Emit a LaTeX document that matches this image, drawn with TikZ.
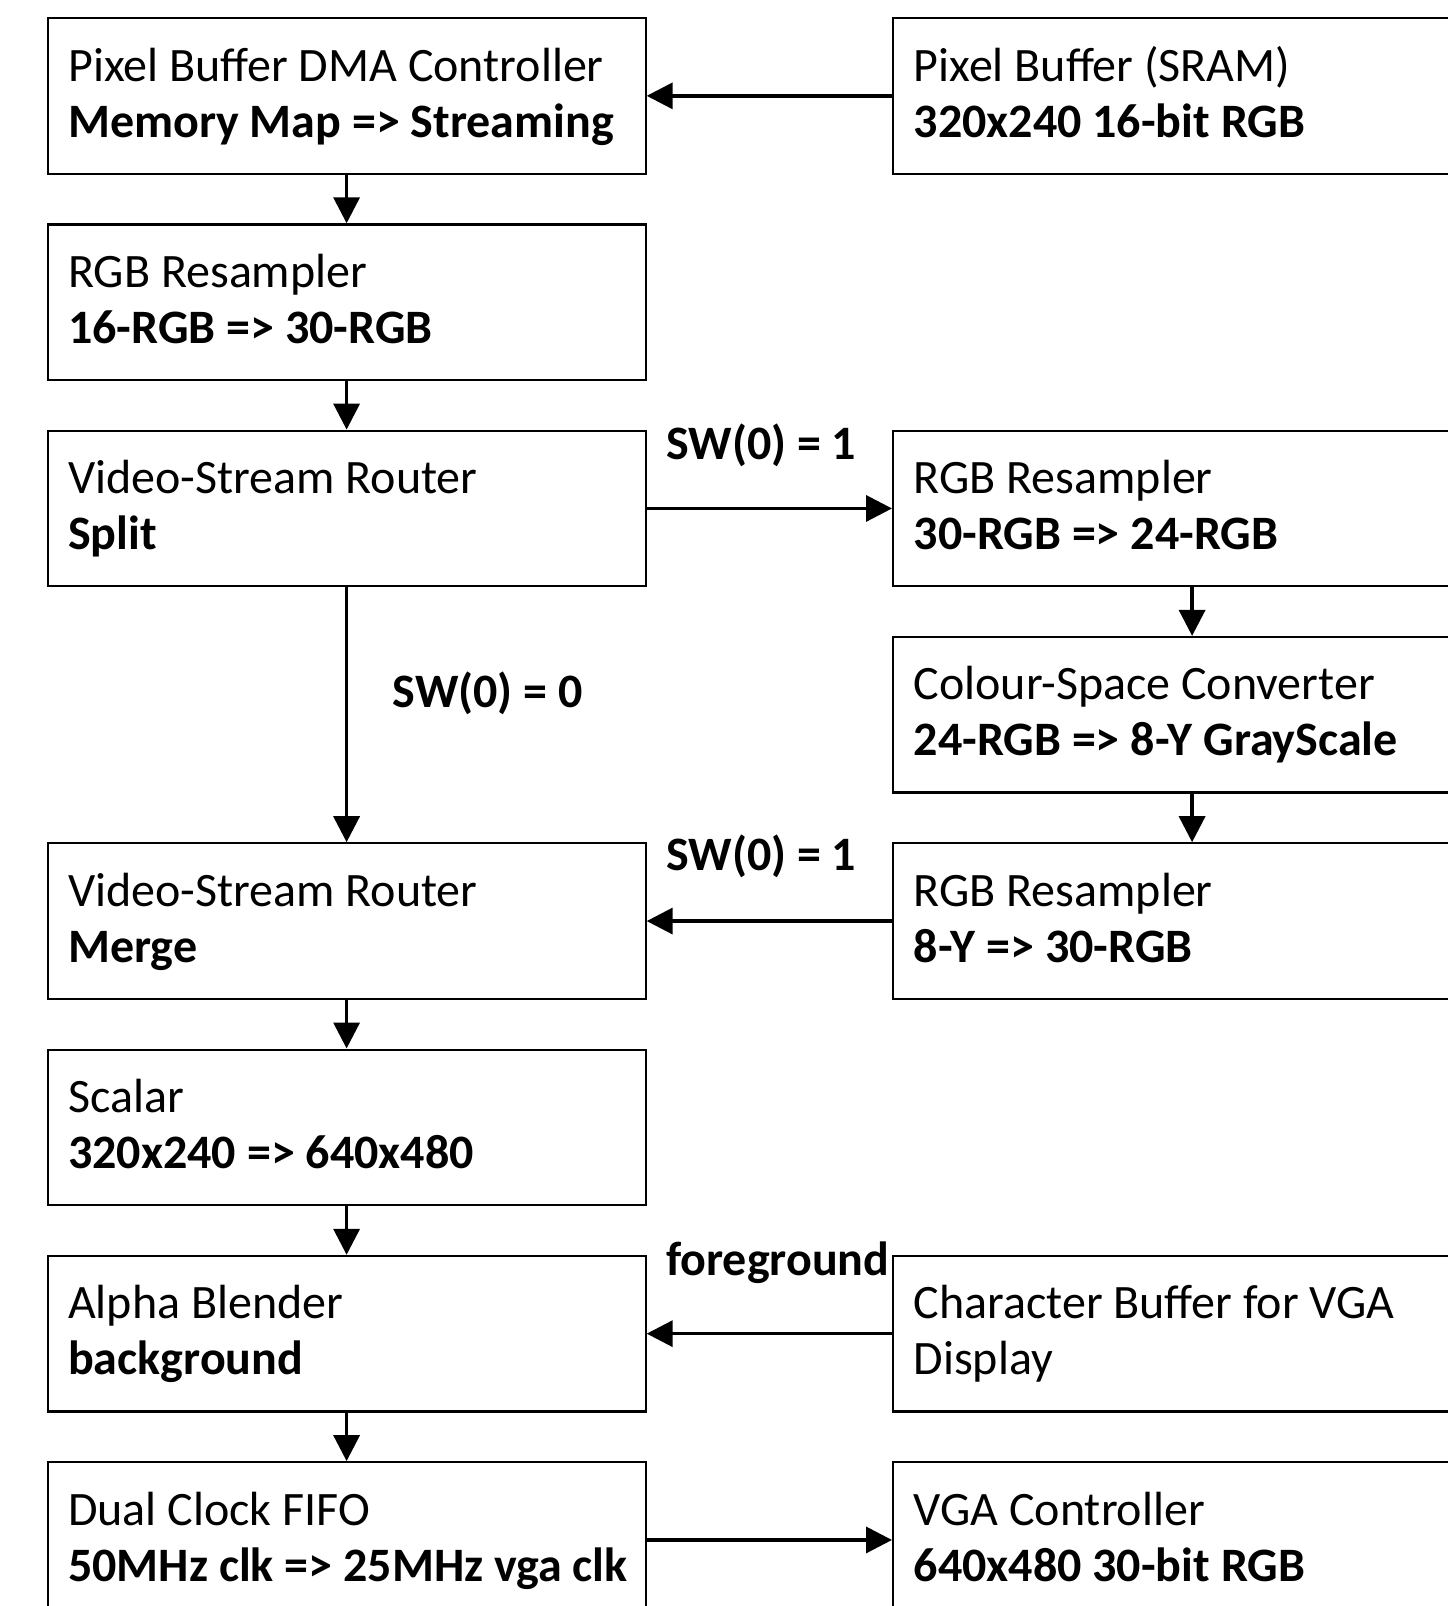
\documentclass[tikz,border=0pt]{standalone}
\usepackage{fontspec}
\setmainfont{Carlito}
\usetikzlibrary{arrows.meta}

% two-line label of a block: plain first line, bold second line
\newcommand{\blocktext}[2]{\parbox[t]{570pt}{\raggedright #1\\\textbf{#2}}}

\begin{document}
\begin{tikzpicture}[x=1pt,y=-1pt,
  block/.style={draw=black, line width=2.2pt, minimum width=598pt, minimum height=155.5pt,
                inner sep=0pt, anchor=north west},
  blocklabel/.style={anchor=base west, inner sep=0pt, font=\fontsize{48}{56}\selectfont},
  flowlabel/.style={anchor=base west, inner sep=0pt, font=\fontsize{48}{56}\selectfont\bfseries},
  flow/.style={line width=3.5pt, -{Triangle[length=26pt,width=26pt]}}]

\useasboundingbox (0,0) rectangle (1448,1606);
\clip (0,0) rectangle (1448,1606);
\fill[white] (0,0) rectangle (1448,1606);

% left column
\node[block] (dma)   at (46.5,17)   {};
\node[block] (rs1)   at (46.5,223.3) {};
\node[block] (split) at (46.5,429.6) {};
\node[block] (merge) at (46.5,842.2) {};
\node[block] (scal)  at (46.5,1048.5) {};
\node[block] (alpha) at (46.5,1254.8) {};
\node[block] (fifo)  at (46.5,1461.1) {};

% right column
\node[block] (sram)  at (892,17)    {};
\node[block] (rs2)   at (892,429.6) {};
\node[block] (csc)   at (892,635.9) {};
\node[block] (rs3)   at (892,842.2) {};
\node[block] (chr)   at (892,1254.8) {};
\node[block] (vga)   at (892,1461.1) {};

% block texts
\foreach \b/\one/\two in {
    dma/{Pixel Buffer DMA Controller}/{Memory Map => Streaming},
    rs1/{RGB Resampler}/{16-RGB => 30-RGB},
    split/{Video-Stream Router}/{Split},
    merge/{Video-Stream Router}/{Merge},
    scal/{Scalar}/{320x240 => 640x480},
    alpha/{Alpha Blender}/{background},
    fifo/{Dual Clock FIFO}/{50MHz clk => 25MHz vga clk},
    sram/{Pixel Buffer (SRAM)}/{320x240 16-bit RGB},
    rs2/{RGB Resampler}/{30-RGB => 24-RGB},
    csc/{Colour-Space Converter}/{24-RGB => 8-Y GrayScale},
    rs3/{RGB Resampler}/{8-Y => 30-RGB},
    vga/{VGA Controller}/{640x480 30-bit RGB}}
  \node[blocklabel] (\b-t) at ([shift={(21.5pt,-64pt)}]\b.north west) {\blocktext{\one}{\two}};
\node[blocklabel] (chr-t) at ([shift={(21.5pt,-64pt)}]chr.north west)
  {\parbox[t]{570pt}{\raggedright Character Buffer for VGA\\Display}};

% data flow
\draw[flow] (sram.west) -- (dma.east);
\draw[flow] (dma.south) -- (rs1.north);
\draw[flow] (rs1.south) -- (split.north);
\draw[flow] (split.east) -- (rs2.west);
\draw[flow] (rs2.south) -- (csc.north);
\draw[flow] (csc.south) -- (rs3.north);
\draw[flow] (rs3.west) -- (merge.east);
\draw[flow] (split.south) -- (merge.north);
\draw[flow] (merge.south) -- (scal.north);
\draw[flow] (scal.south) -- (alpha.north);
\draw[flow] (chr.west) -- (alpha.east);
\draw[flow] (alpha.south) -- (fifo.north);
\draw[flow] (fifo.east) -- (vga.west);

% connector labels
\node[flowlabel] (sw1a) at (666,459) {SW(0) = 1};
\node[flowlabel] (sw0)  at (392.5,707) {SW(0) = 0};
\node[flowlabel] (sw1b) at (666,870) {SW(0) = 1};
\node[flowlabel] (fg)   at (666,1275) {foreground};
\end{tikzpicture}
\end{document}
